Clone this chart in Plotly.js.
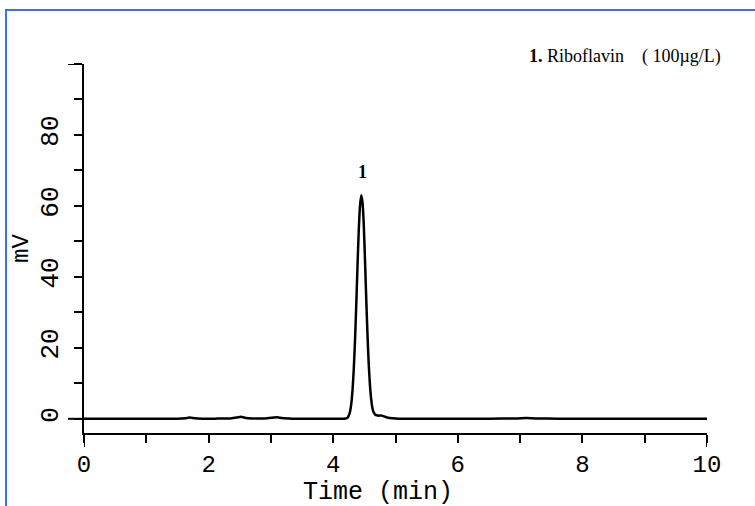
<!DOCTYPE html>
<html>
<head>
<meta charset="utf-8">
<script src="https://cdn.plot.ly/plotly-3.0.1.min.js"></script>
<style>
  html, body { margin: 0; padding: 0; background: #fff; }
  #wrap { position: relative; width: 755px; height: 506px; overflow: hidden; }
  #chart { position: absolute; left: 0; top: 0; width: 755px; height: 506px; }
  #frame { position: absolute; left: 5px; top: 9px; width: 760px; height: 510px;
           border-left: 2px solid #3F6EE6; border-top: 2px solid #3F6EE6; pointer-events: none; }
</style>
</head>
<body>
<div id="wrap">
  <div id="chart"></div>
  <div id="frame"></div>
</div>
<script>
// Retention time (min)
const timeMin = [0, 0.5, 1.0, 1.5, 1.62, 1.7, 1.78, 1.9, 2.1, 2.35, 2.45, 2.52, 2.58, 2.7, 2.9, 3.02, 3.1, 3.18, 3.35, 3.6, 3.9, 4.1, 4.2, 4.23, 4.25, 4.27, 4.29, 4.31, 4.33, 4.35, 4.37, 4.39, 4.41, 4.43, 4.45, 4.47, 4.49, 4.51, 4.53, 4.55, 4.57, 4.59, 4.61, 4.63, 4.65, 4.68, 4.72, 4.78, 4.83, 4.88, 4.95, 5.05, 5.3, 5.6, 6.0, 6.5, 6.95, 7.1, 7.25, 7.6, 8.0, 8.5, 9.0, 9.5, 10.0];
// Detector signal (mV)
const signalMv = [0, 0, 0.02, 0.05, 0.15, 0.35, 0.15, 0.05, 0.05, 0.1, 0.35, 0.6, 0.3, 0.1, 0.1, 0.3, 0.45, 0.2, 0.05, 0.02, 0, 0, 0.1, 0.3, 0.9, 2.0, 4.2, 8.0, 14, 22, 32, 43, 53, 60, 63, 61, 55, 45, 34, 24, 15.5, 9.5, 5.5, 3.0, 1.8, 1.1, 0.9, 0.9, 0.6, 0.3, 0.15, 0.05, 0.05, 0.03, 0.02, 0.05, 0.1, 0.2, 0.1, 0.05, 0.02, 0, 0, 0, 0];

const xTickVals = [0, 1, 2, 3, 4, 5, 6, 7, 8, 9, 10];
const xTickText = ['0', '', '2', '', '4', '', '6', '', '8', '', '10'];
const yTickVals = [0, 10, 20, 30, 40, 50, 60, 70, 80, 90, 100];
const yTickText = ['0', '', '20', '', '40', '', '60', '', '80', '', ''];

const xTitle = 'Time (min)';
const yTitle = 'mV';
const peakLabel = '1';
const peakLabelTime = 4.47;
const peakLabelMv = 69.5;
const legendText = '<b>1.</b> Riboflavin\u00a0\u00a0\u00a0\u00a0( 100\u00b5g/L)';

const monoFont = 'Liberation Mono, DejaVu Sans Mono, monospace';
const serifFont = 'Liberation Serif, Times New Roman, serif';

const trace = {
  x: timeMin,
  y: signalMv,
  type: 'scatter',
  mode: 'lines',
  line: { color: '#000', width: 2.5, shape: 'spline', smoothing: 0.6 },
  hoverinfo: 'x+y'
};

const layout = {
  width: 755,
  height: 506,
  margin: { l: 84, r: 48, t: 64, b: 73 },
  paper_bgcolor: '#fff',
  plot_bgcolor: '#fff',
  showlegend: false,
  xaxis: {
    range: [0, 10],
    showgrid: false,
    zeroline: false,
    showline: true,
    linecolor: '#000',
    linewidth: 2,
    ticks: 'outside',
    ticklen: 8,
    tickwidth: 2,
    tickcolor: '#000',
    tickvals: xTickVals,
    ticktext: xTickText,
    tickfont: { family: monoFont, size: 24, color: '#000' },
    ticklabelstandoff: 0,
    automargin: false
  },
  yaxis: {
    range: [-4, 100],
    showgrid: false,
    zeroline: false,
    showline: true,
    linecolor: '#000',
    linewidth: 2,
    ticks: 'outside',
    ticklen: 8,
    tickwidth: 2,
    tickcolor: '#000',
    tickvals: yTickVals,
    ticktext: yTickText,
    tickangle: -90,
    tickfont: { family: monoFont, size: 26, color: '#000' },
    ticklabelstandoff: 6,
    title: { text: yTitle, font: { family: monoFont, size: 24, color: '#000' }, standoff: 0 },
    automargin: false
  },
  shapes: [
    { type: 'line', xref: 'paper', yref: 'y', x0: -0.0257, x1: 0, y0: 0, y1: 0, line: { color: '#000', width: 2 } },
    { type: 'line', xref: 'paper', yref: 'y', x0: -0.0257, x1: 0, y0: 100, y1: 100, line: { color: '#000', width: 2 } },
    { type: 'line', xref: 'x', yref: 'paper', x0: 0, x1: 0, y0: 0, y1: -0.038, line: { color: '#000', width: 2 } },
    { type: 'line', xref: 'x', yref: 'paper', x0: 10, x1: 10, y0: 0, y1: -0.038, line: { color: '#000', width: 2 } }
  ],
  annotations: [
    { x: 0.472, y: -0.162, xref: 'paper', yref: 'paper', text: xTitle, showarrow: false,
      font: { family: monoFont, size: 25, color: '#000' }, xanchor: 'center', yanchor: 'middle', borderpad: 0 },
    { x: peakLabelTime, y: peakLabelMv, xref: 'x', yref: 'y', text: '<b>' + peakLabel + '</b>', showarrow: false,
      font: { family: serifFont, size: 18, color: '#000' }, xanchor: 'center', yanchor: 'middle' },
    { x: 0.711, y: 1.019, xref: 'paper', yref: 'paper', text: legendText, showarrow: false,
      font: { family: serifFont, size: 18, color: '#000' }, xanchor: 'left', yanchor: 'middle' }
  ]
};

Plotly.newPlot('chart', [trace], layout, { displayModeBar: false, staticPlot: true });
</script>
</body>
</html>
